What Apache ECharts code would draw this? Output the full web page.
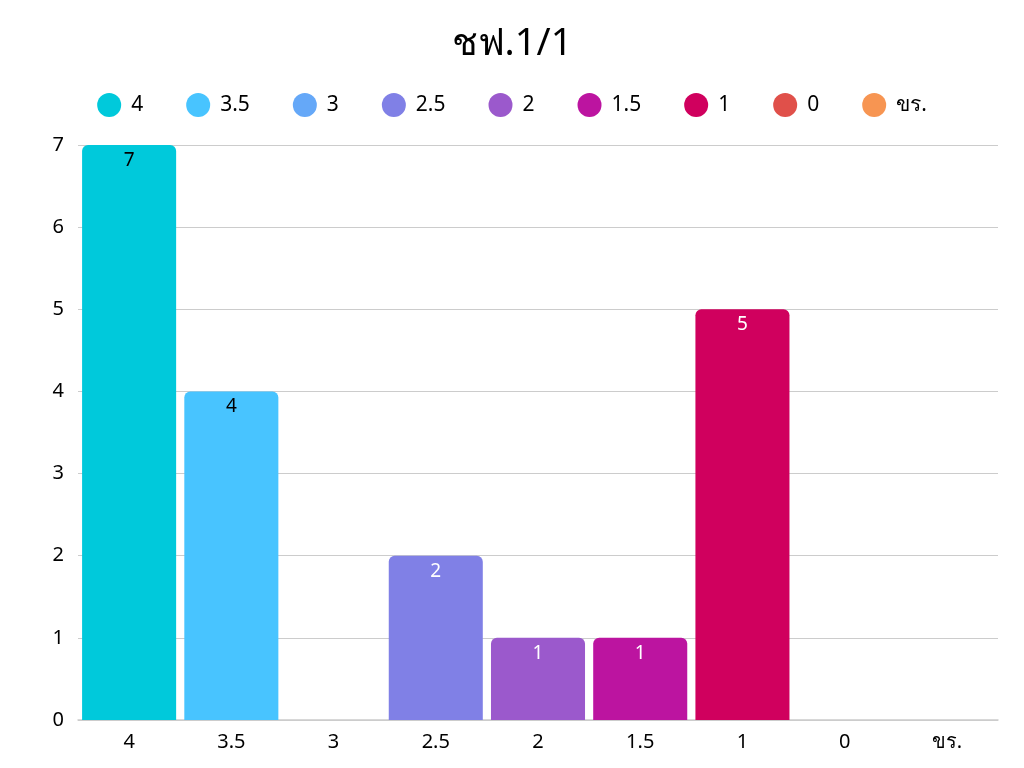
<!DOCTYPE html>
<html lang="th">
<head>
    <meta charset="UTF-8">
    <title>ชฟ.1/1</title>
    <script src="https://cdn.jsdelivr.net/npm/echarts@6/dist/echarts.min.js"></script>
    <style>html,body{margin:0;padding:0;background:#fff}</style>
</head>
<body>
<div id="chart" style="width:1024px;height:768px"></div>
<script>
    // ข้อมูล
    var categories = ['4', '3.5', '3', '2.5', '2', '1.5', '1', '0', 'ขร.'];
    var counts = [7, 4, 0, 2, 1, 1, 5, 0, 0];
    var colors = ['#00C9DB', '#48C4FF', '#65A8F8', '#8080E6', '#9B59CC', '#BC14A0', '#D0005E', '#E0504A', '#F79552'];
    var labelColors = ['#000', '#000', '#000', '#fff', '#fff', '#fff', '#fff', '#fff', '#fff'];
    var yTicks = [0, 1, 2, 3, 4, 5, 6, 7];

    var font = 'Noto Sans, DejaVu Sans, sans-serif';

    var series = categories.map(function (name, i) {
        var data = categories.map(function (c, j) { return j === i && counts[i] > 0 ? counts[i] : '-'; });
        return {
            name: name,
            type: 'bar',
            stack: 'all',
            barCategoryGap: '8%',
            itemStyle: {color: colors[i], borderRadius: [6, 6, 0, 0]},
            label: {
                show: true,
                position: 'insideTop',
                distance: 6,
                color: labelColors[i],
                fontSize: 19,
                fontFamily: font
            },
            data: data
        };
    });

    var myChart = echarts.init(document.getElementById('chart'));
    var option = {
        animation: false,
        color: colors,
        title: {
            text: 'ชฟ.1/1',
            left: 'center',
            top: 20,
            textStyle: {fontSize: 38, fontWeight: 'normal', color: '#000', fontFamily: font}
        },
        legend: {
            top: 88,
            left: 'center',
            icon: 'circle',
            itemWidth: 24,
            itemHeight: 24,
            itemGap: 43,
            textStyle: {fontSize: 21, color: '#000', fontFamily: font, padding: [0, 0, 0, 5]}
        },
        grid: {left: 78, right: 26, top: 145, bottom: 48, containLabel: false},
        xAxis: {
            type: 'category',
            data: categories,
            axisTick: {show: false},
            axisLine: {lineStyle: {color: '#ccc', width: 1.5}},
            axisLabel: {fontSize: 20, color: '#000', margin: 12, fontFamily: font}
        },
        yAxis: {
            type: 'value',
            min: yTicks[0],
            max: yTicks[yTicks.length - 1],
            interval: 1,
            axisLine: {show: false},
            axisTick: {show: false},
            splitLine: {lineStyle: {color: '#ccc', width: 1}},
            axisLabel: {fontSize: 20, color: '#000', margin: 14, fontFamily: font}
        },
        series: series
    };
    myChart.setOption(option);
</script>
</body>
</html>
